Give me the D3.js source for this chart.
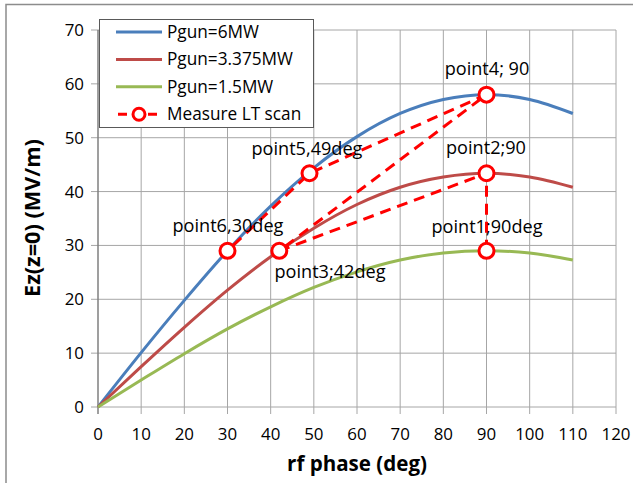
<!DOCTYPE html>
<html><head><meta charset="utf-8">
<script src="https://cdn.jsdelivr.net/npm/d3@7"></script>
<style>body{margin:0;background:#fff}svg{display:block}</style>
</head><body>
<svg id="c" width="633" height="483"></svg>
<script>
const phases = [0,10,20,30,40,50,60,70,80,90,100,110];
const e6MW   = [0,10.1,19.8,29.0,37.3,44.4,50.2,54.5,57.1,58.0,57.1,54.5];
const e3MW   = [0,7.5,14.8,21.7,27.9,33.2,37.6,40.8,42.7,43.4,42.7,40.8];
const e15MW  = [0,5.0,9.9,14.5,18.6,22.2,25.1,27.3,28.6,29.0,28.6,27.3];
const seriesNames = ["Pgun=6MW","Pgun=3.375MW","Pgun=1.5MW","Measure LT scan"];
const scanPhase = [90,90,42,90,49,30];
const scanField = [29,43.4,29,58,43.4,29];
const scanLabels = ["point1;90deg","point2;90","point3;42deg","point4; 90","point5,49deg","point6,30deg"];
const xTicks = [0,10,20,30,40,50,60,70,80,90,100,110,120];
const yTicks = [0,10,20,30,40,50,60,70];

const svg = d3.select("#c");
const font = "'Open Sans', Lato, sans-serif";
const x = d3.scaleLinear().domain([0,120]).range([98,616]);
const y = d3.scaleLinear().domain([0,70]).range([407,30]);

// find a font size so that a sample string gets a given width
function fitSize(sample, target, bold){
  const t = svg.append("text").attr("font-family",font).attr("font-size",20)
    .attr("font-weight",bold?"bold":"normal").text(sample);
  const w = t.node().getComputedTextLength();
  t.remove();
  return 20*target/w;
}
const fsLegend = fitSize("Pgun=3.375MW",126,false);
const fsPoint  = fitSize("point5,49deg",111,false);
const fsTick   = fitSize("100",29,false);
const fsXT     = fitSize("rf phase (deg)",140,true);
const fsYT     = fitSize("Ez(z=0) (MV/m)",158,true);

// outer frame
svg.append("path").attr("d","M6,483 L6,4.5 L640,4.5").attr("fill","none").attr("stroke","#8c8c8c").attr("stroke-width",1.5);

// grid
const g = svg.append("g");
g.selectAll(".vg").data(xTicks.slice(1)).join("line")
  .attr("x1",d=>x(d)).attr("x2",d=>x(d)).attr("y1",y(70)).attr("y2",y(0)+7)
  .attr("stroke","#a6a6a6").attr("stroke-width",1);
g.selectAll(".hg").data(yTicks).join("line")
  .attr("x1",x(0)-7).attr("x2",x(120)).attr("y1",d=>y(d)).attr("y2",d=>y(d))
  .attr("stroke","#a6a6a6").attr("stroke-width",1);
g.append("line").attr("x1",x(0)).attr("x2",x(0)).attr("y1",y(70)).attr("y2",y(0)+7)
  .attr("stroke","#7f7f7f").attr("stroke-width",1.5);

// tick labels
svg.selectAll(".xl").data(xTicks).join("text")
  .attr("x",d=>x(d)).attr("y",y(0)+33).attr("text-anchor","middle")
  .attr("font-family",font).attr("font-size",fsTick).attr("fill","#000").text(d=>d);
svg.selectAll(".yl").data(yTicks).join("text")
  .attr("x",x(0)-14).attr("y",d=>y(d)+6).attr("text-anchor","end")
  .attr("font-family",font).attr("font-size",fsTick).attr("fill","#000").text(d=>d);

// axis titles
svg.append("text").attr("x",357).attr("y",471).attr("text-anchor","middle")
  .attr("font-family",font).attr("font-weight","bold").attr("font-size",fsXT).text("rf phase (deg)");
svg.append("text").attr("transform","translate(40,218) rotate(-90)").attr("text-anchor","middle")
  .attr("font-family",font).attr("font-weight","bold").attr("font-size",fsYT).text("Ez(z=0) (MV/m)");

// curves
const colors = ["#4a7ebb","#be4b48","#98b954"];
const line = d3.line().x((d,i)=>x(phases[i])).y(d=>y(d)).curve(d3.curveMonotoneX);
[e6MW,e3MW,e15MW].forEach((s,k)=>{
  svg.append("path").attr("d",line(s)).attr("fill","none").attr("stroke",colors[k]).attr("stroke-width",3);
});

// scan
const scanLine = d3.line().x((d,i)=>x(scanPhase[i])).y(d=>y(d));
svg.append("path").attr("d",scanLine(scanField)).attr("fill","none").attr("stroke","#ff0000")
  .attr("stroke-width",3).attr("stroke-dasharray","11,7");
svg.selectAll(".pt").data(scanField).join("circle")
  .attr("cx",(d,i)=>x(scanPhase[i])).attr("cy",d=>y(d)).attr("r",7.5)
  .attr("fill","#fff").attr("stroke","#ff0000").attr("stroke-width",3);

// point labels
const labelPos = [[487,233],[486,154],[330,278],[487,75],[307,155],[228,232]];
svg.selectAll(".pl").data(scanLabels).join("text")
  .attr("x",(d,i)=>labelPos[i][0]).attr("y",(d,i)=>labelPos[i][1]).attr("text-anchor","middle")
  .attr("font-family",font).attr("font-size",fsPoint).attr("fill","#000").text(d=>d);

// legend
const lg = svg.append("g");
lg.append("rect").attr("x",99.5).attr("y",19.5).attr("width",214).attr("height",108)
  .attr("fill","#fff").attr("stroke","#595959").attr("stroke-width",1);
seriesNames.forEach((n,i)=>{
  const yy = 32 + i*27.4;
  const col = i<3 ? colors[i] : "#ff0000";
  if(i<3){
    lg.append("line").attr("x1",116).attr("x2",162).attr("y1",yy).attr("y2",yy).attr("stroke",col).attr("stroke-width",3);
  } else {
    lg.append("line").attr("x1",116).attr("x2",162).attr("y1",yy).attr("y2",yy).attr("stroke",col).attr("stroke-width",3).attr("stroke-dasharray","9,6").attr("stroke-dashoffset",-2);
    lg.append("circle").attr("cx",139).attr("cy",yy).attr("r",6).attr("fill","#fff").attr("stroke",col).attr("stroke-width",3);
  }
  lg.append("text").attr("x",167).attr("y",yy+6).attr("font-family",font).attr("font-size",fsLegend).text(n);
});
</script>
</body></html>
